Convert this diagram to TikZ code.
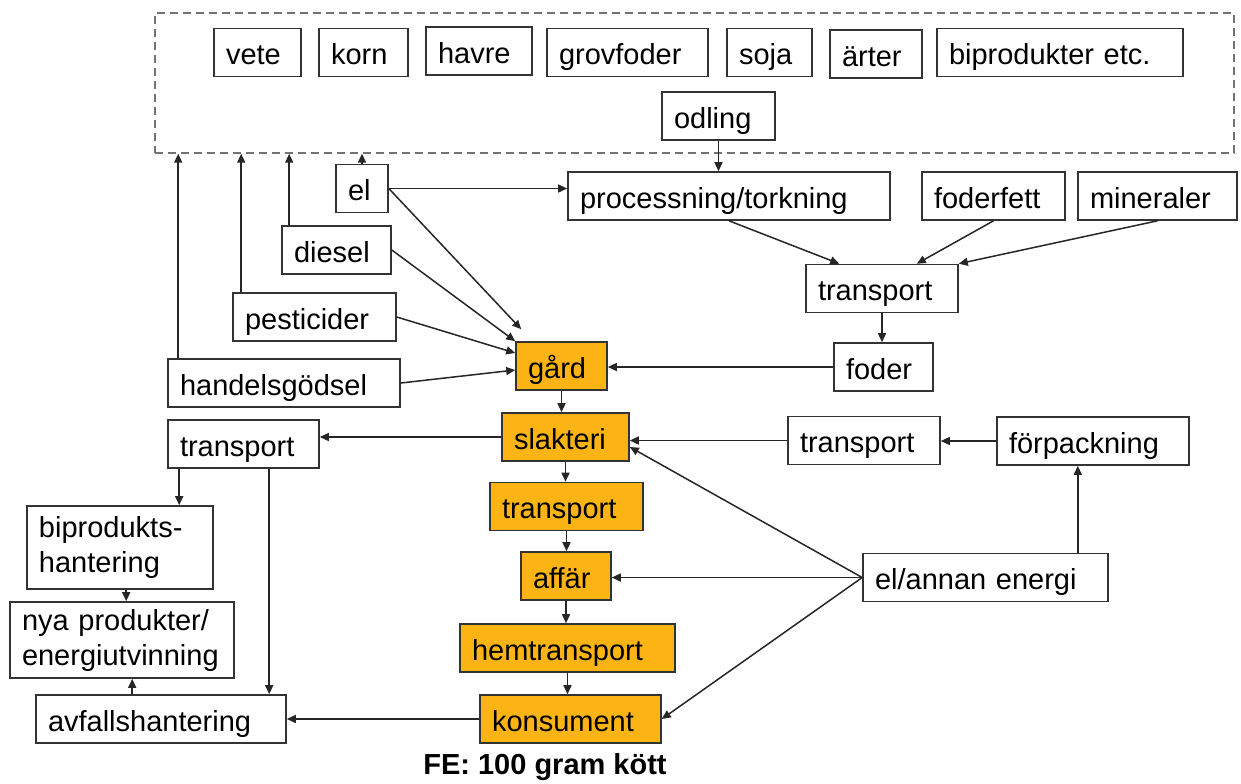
\documentclass[tikz,border=0pt]{standalone}
\usepackage{fontspec}
\setmainfont{Liberation Sans}
\usetikzlibrary{arrows.meta}
\definecolor{kottorange}{RGB}{252,180,20}

\begin{document}
\begin{tikzpicture}[x=0.5pt, y=-0.5pt, >={Triangle[length=4.5pt,width=4pt]}]
% Stilar
\tikzset{
  box/.style={rectangle, draw=black!80, fill=white, line width=0.8pt, text width=#1, align=left, inner xsep=6pt, inner ysep=0pt, minimum height=24pt, text height=12pt, text depth=0pt, font=\fontsize{14.5pt}{17.5pt}\selectfont},
  hot/.style={box=#1, fill=kottorange},
  twoline/.style={text height=, text depth=},
  odlingsram/.style={rectangle, draw=black!55, dash pattern=on 4pt off 2.5pt, line width=0.7pt, inner sep=0pt},
  link/.style={->, draw=black!85, line width=0.75pt}
}
\useasboundingbox (0,0) rectangle (1241,783);

% Odling
\node[odlingsram, minimum width=539.5pt, minimum height=70pt] (odling_ram) at (694.5,83) {};
\node[box=31.5pt] (vete_box) at (257.5,52.5) {vete};
\node[box=32.5pt] (korn_box) at (363.5,52.5) {korn};
\node[box=41pt] (havre_box) at (479,51) {havre};
\node[box=68.5pt] (grovfoder_box) at (627.5,52.5) {grovfoder};
\node[box=30.5pt] (soja_box) at (769.5,52.5) {soja};
\node[box=34pt] (arter_box) at (876,54) {ärter};
\node[box=111pt] (biprod_box) at (1060,52.5) {biprodukter etc.};
\node[box=44.5pt] (odling_box) at (718.5,116) {odling};

% Insatsmedel
\node[box=14pt] (el_box) at (362,188.5) {el};
\node[box=42.5pt] (diesel_box) at (336.5,250) {diesel};
\node[box=69.5pt] (pest_box) at (314.5,317) {pesticider};
\node[box=104pt] (handel_box) at (284,383) {handelsgödsel};

% Foder
\node[box=149pt] (proc_box) at (729,196) {processning/torkning};
\node[box=59.5pt] (foderfett_box) at (993.5,196) {foderfett};
\node[box=67.5pt] (mineraler_box) at (1157.5,196) {mineraler};
\node[box=64pt] (tr_foder_box) at (882,288.5) {transport};
\node[box=37.5pt] (foder_box) at (883.5,367) {foder};

% Kedjan
\node[hot=33.5pt] (gard_box) at (561.5,366) {gård};
\node[hot=51.5pt] (slakteri_box) at (565.5,437) {slakteri};
\node[hot=64.5pt] (tr_kott_box) at (566.5,506.5) {transport};
\node[hot=33pt] (affar_box) at (566,576) {affär};
\node[hot=95.5pt] (hem_box) at (567.5,648) {hemtransport};
\node[hot=78.5pt] (konsument_box) at (570.5,719) {konsument};
\node[font=\fontsize{14.5pt}{17.5pt}\selectfont\bfseries, anchor=base, inner sep=0pt] (fe_text) at (545,774) {FE: 100 gram kött};

% Förpackning och energi
\node[box=64pt] (tr_forp_box) at (864,440.5) {transport};
\node[box=84pt] (forp_box) at (1093,441) {förpackning};
\node[box=110.5pt] (energi_box) at (985.5,577.5) {el/annan energi};

% Avfall
\node[box=63.5pt] (tr_avfall_box) at (243.5,444) {transport};
\node[box=81pt, twoline, minimum height=41.5pt] (bip_box) at (120,547.5) {biprodukts-\\hantering};
\node[box=100pt, twoline, minimum height=38pt] (nya_box) at (122,640) {nya produkter/\\energiutvinning};
\node[box=113pt] (avfall_box) at (161,719) {avfallshantering};

% Pilar upp till odlingen
\coordinate (handel_upp) at ([xshift=5.5pt]handel_box.north west);
\coordinate (pest_upp) at ([xshift=4.5pt]pest_box.north west);
\coordinate (diesel_upp) at ([xshift=4pt]diesel_box.north west);
\draw[link] (handel_upp) -- (handel_upp |- odling_ram.south);
\draw[link] (pest_upp) -- (pest_upp |- odling_ram.south);
\draw[link] (diesel_upp) -- (diesel_upp |- odling_ram.south);
\draw[link] (el_box.north) -- (el_box.north |- odling_ram.south);
\draw[link] (odling_box.south) -- (odling_box.south |- proc_box.north);

% Pilar till gården
\draw[link] (el_box.east) -- (el_box.east -| proc_box.west);
\draw[link] (el_box.east) -- ([xshift=3pt,yshift=6pt]gard_box.north west);
\draw[link] (diesel_box.east) -- (gard_box.north west);
\draw[link] (pest_box.east) -- ([yshift=6.5pt]gard_box.west);
\draw[link] (handel_box.east) -- ([yshift=-2pt]gard_box.west);
\draw[link] (proc_box.south) -- ([xshift=17pt]tr_foder_box.north west);
\draw[link] (foderfett_box.south) -- ([xshift=-21pt]tr_foder_box.north east);
\draw[link] (mineraler_box.south) -- (tr_foder_box.north east);
\draw[link] (tr_foder_box.south) -- (tr_foder_box.south |- foder_box.north);
\draw[link] (foder_box.west) -- (foder_box.west -| gard_box.east);

% Kedjan nedåt
\draw[link] (gard_box.south) -- (gard_box.south |- slakteri_box.north);
\draw[link] (slakteri_box.south) -- (slakteri_box.south |- tr_kott_box.north);
\draw[link] (tr_kott_box.south) -- (tr_kott_box.south |- affar_box.north);
\draw[link] (affar_box.south) -- (affar_box.south |- hem_box.north);
\draw[link] (hem_box.south) -- (hem_box.south |- konsument_box.north);

% Energi och förpackning
\coordinate (energi_upp) at ([xshift=-15.5pt]energi_box.north east);
\draw[link] (forp_box.west) -- (forp_box.west -| tr_forp_box.east);
\draw[link] (tr_forp_box.west) -- (tr_forp_box.west -| slakteri_box.east);
\draw[link] (energi_upp) -- (energi_upp |- forp_box.south);
\draw[link] (energi_box.west) -- ([yshift=-5pt]slakteri_box.east);
\draw[link] (energi_box.west) -- (energi_box.west -| affar_box.east);
\draw[link] (energi_box.west) -- (konsument_box.east);

% Avfall
\coordinate (bip_ned) at ([xshift=6pt]tr_avfall_box.south west);
\coordinate (avfall_ned) at ([xshift=51pt]tr_avfall_box.south west);
\coordinate (nya_ned) at ([xshift=50pt]bip_box.south west);
\coordinate (nya_upp) at ([xshift=48.5pt]avfall_box.north west);
\draw[link] (slakteri_box.west) -- (slakteri_box.west -| tr_avfall_box.east);
\draw[link] (bip_ned) -- (bip_ned |- bip_box.north);
\draw[link] (avfall_ned) -- (avfall_ned |- avfall_box.north);
\draw[link] (nya_ned) -- (nya_ned |- nya_box.north);
\draw[link] (nya_upp) -- (nya_upp |- nya_box.south);
\draw[link] (konsument_box.west) -- (konsument_box.west -| avfall_box.east);

\end{tikzpicture}
\end{document}
